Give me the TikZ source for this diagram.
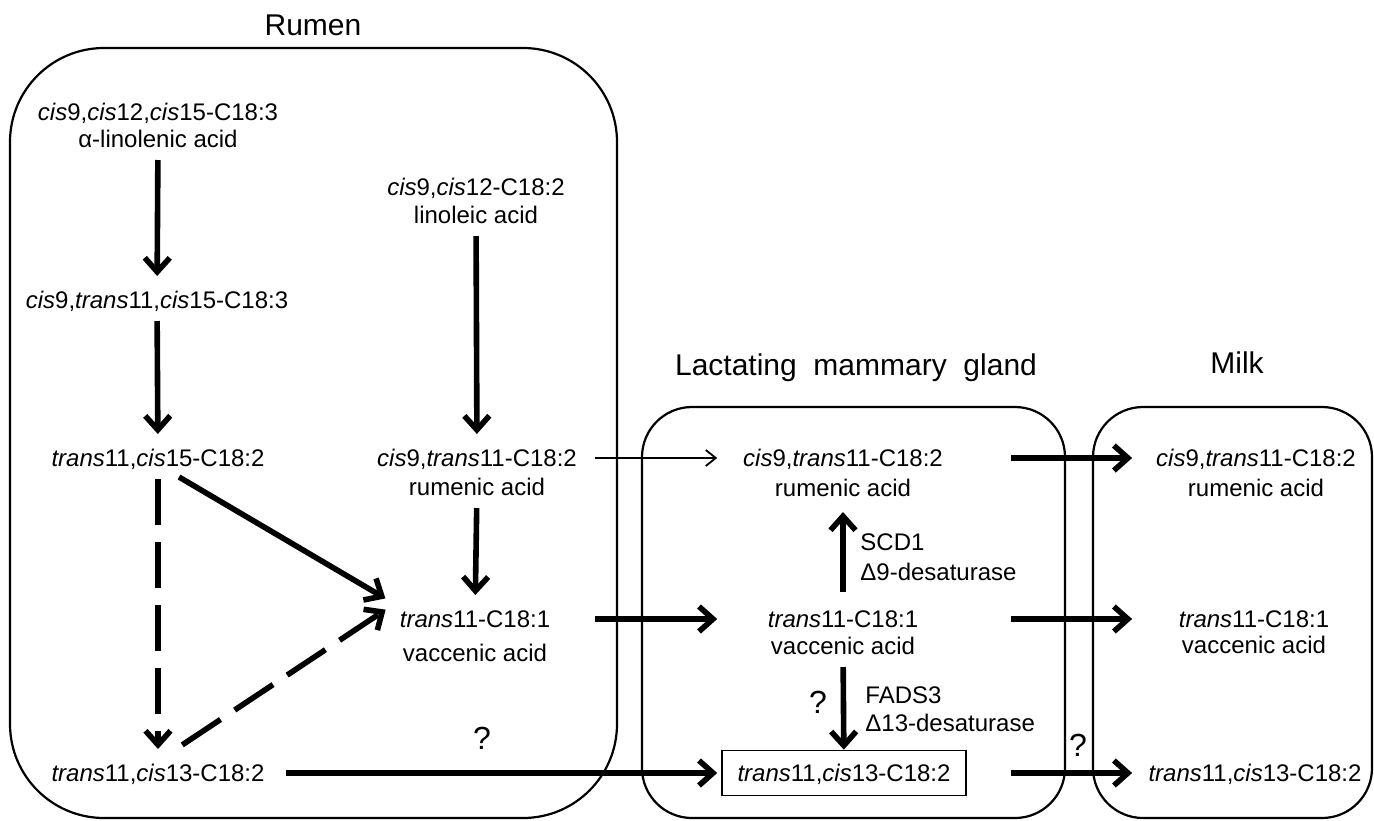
\documentclass[tikz,border=0pt]{standalone}
\usepackage{fontspec}
\setmainfont{Liberation Sans}
\usepackage{tikz}
\usetikzlibrary{arrows.meta,calc}

\newcommand{\cis}{\textit{cis}}
\newcommand{\trans}{\textit{trans}}

\begin{document}
\begin{tikzpicture}[x=0.5pt,y=-0.5pt,node distance=14pt,
  font=\fontsize{12pt}{14pt}\selectfont,
  acid/.style={inner sep=4pt,text height=8.6pt,text depth=0pt},
  tag/.style={acid,anchor=west},
  title/.style={anchor=base,font=\fontsize{15pt}{18pt}\selectfont},
  query/.style={font=\fontsize{16pt}{18pt}\selectfont},
  region/.style={draw,line width=1.1pt},
  flow/.style={line width=2.8pt,-{Straight Barb[length=7pt,width=12.5pt]},shorten <=2pt,shorten >=3.5pt},
  thinflow/.style={line width=0.9pt,-{Straight Barb[length=5pt,width=8pt]}},
  guess/.style={flow,dash pattern=on 23pt off 8.5pt}]
\useasboundingbox (0,0) rectangle (1374,820);

\draw[region,rounded corners=47pt] (10,48) rectangle (617,818);
\draw[region,rounded corners=25pt] (642,407) rectangle (1065,818);
\draw[region,rounded corners=25pt] (1093,407) rectangle (1372,818);

\node[title] (rumenT) at (313,35) {Rumen};
\node[title] (glandT) at (856,375) {Lactating~ mammary~ gland};
\node[title] (milkT) at (1237,373) {Milk};

\node[acid] (ala) at (158,112) {\cis9,\cis12,\cis15-C18:3};
\node[acid] (alan) [below of=ala,node distance=13.5pt] {α-linolenic acid};
\node[acid] (ct) at (157,300) {\cis9,\trans11,\cis15-C18:3};
\node[acid] (tc15) at (158,458) {\trans11,\cis15-C18:2};
\node[acid] (tc13) at (158,773) {\trans11,\cis13-C18:2};
\node[acid] (la) at (476,187) {\cis9,\cis12-C18:2};
\node[acid] (lan) [below of=la] {linoleic acid};
\node[acid] (ra) at (477,458) {\cis9,\trans11-C18:2};
\node[acid] (ran) [below of=ra,node distance=14.5pt] {rumenic acid};
\node[acid] (va) at (475,619) {\trans11-C18:1};
\node[acid] (van) [below of=va,node distance=17pt] {vaccenic acid};
\node[query] (q1) at (482,738) {?};

\node[acid] (ra2) at (843,458) {\cis9,\trans11-C18:2};
\node[acid] (ran2) [below of=ra2,node distance=15pt] {rumenic acid};
\node[acid] (va2) at (843,619) {\trans11-C18:1};
\node[acid] (van2) [below of=va2,node distance=13.5pt] {vaccenic acid};
\node[acid,draw,line width=0.8pt,minimum width=122pt,minimum height=22.5pt] (tcbox) at (844,773) {\trans11,\cis13-C18:2};
\node[tag] (scd) at (852,542) {SCD1};
\node[tag] (d9) at ([yshift=-15pt]scd.west) {Δ9-desaturase};
\node[tag] (fads) at (857,695) {FADS3};
\node[tag] (d13) at ([yshift=-14pt]fads.west) {Δ13-desaturase};
\node[query] (q2) at (818,702) {?};
\node[query] (q3) at (1078,745) {?};

\node[acid] (ra3) at (1256,458) {\cis9,\trans11-C18:2};
\node[acid] (ran3) [below of=ra3,node distance=15pt] {rumenic acid};
\node[acid] (va3) at (1254,619) {\trans11-C18:1};
\node[acid] (van3) [below of=va3,node distance=13pt] {vaccenic acid};
\node[acid] (tc3) at (1255,773) {\trans11,\cis13-C18:2};

\draw[flow] (alan) -- (ct);
\draw[flow] (ct) -- (tc15);
\draw[flow] (lan) -- (ra);
\draw[flow] (ran) -- (va);
\draw[flow] (tc15.-44) -- (va.north west);
\draw[guess] (tc15) -- (tc13);
\draw[guess,shorten <=10pt] (tc13.66) -- (va.171);

\draw[thinflow,shorten <=5pt,shorten >=2pt] (ra) -- (ra -| tcbox.west);
\draw[flow,shorten <=5pt,shorten >=2pt] (va -| ra.east) -- (va -| tcbox.west);
\draw[flow,shorten <=6.5pt,shorten >=2pt] (tc13) -- (tcbox);

\draw[flow,shorten <=5pt] (va2) -- (ran2);
\draw[flow,shorten >=0pt] (van2) -- (tcbox);

\draw[flow,shorten <=22pt,shorten >=4pt] (ra2 -| tcbox.east) -- (ra3 -| tc3.west);
\draw[flow,shorten <=22pt,shorten >=4pt] (va2 -| tcbox.east) -- (va3 -| tc3.west);
\draw[flow,shorten <=22pt,shorten >=4pt] (tcbox) -- (tc3);
\end{tikzpicture}
\end{document}
